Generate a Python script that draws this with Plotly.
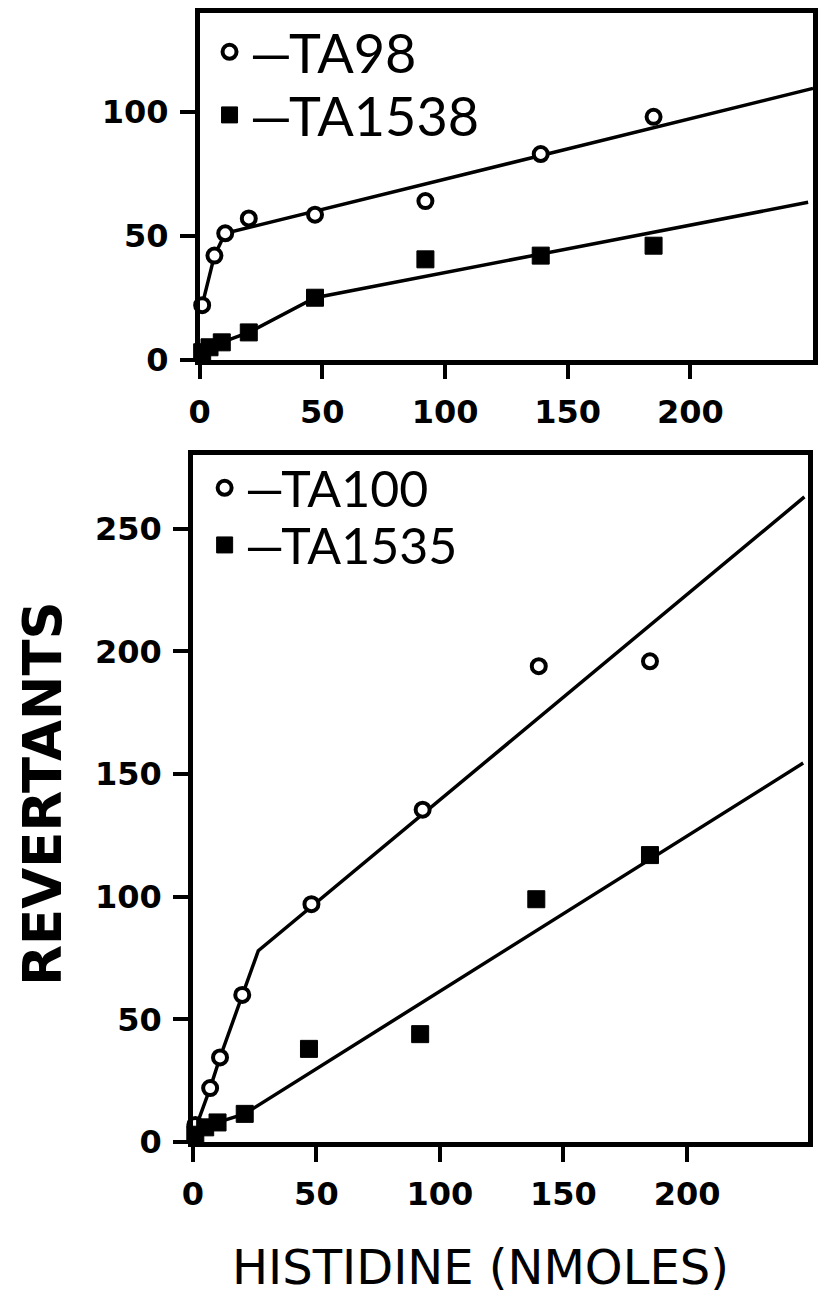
import plotly.graph_objects as go

# ---------------- data ----------------
# top panel
ta98_x = [1, 6, 10.4, 20, 47, 92, 139, 185]
ta98_y = [22, 42, 51, 57, 58.5, 64, 83, 98]
ta98_fit_x = [1, 6, 10.4, 250]
ta98_fit_y = [22, 42, 51, 109.5]

ta1538_x = [1, 4, 9, 20, 47, 92, 139, 185]
ta1538_y = [3, 5, 7, 11, 25, 40.5, 42, 46]
ta1538_fit_x = [1, 4, 9, 20, 47, 248]
ta1538_fit_y = [3, 5, 7, 11, 25, 63.5]

# bottom panel
ta100_x = [1, 7, 11, 20, 48, 93, 140, 185]
ta100_y = [7, 22, 34.5, 60, 97, 135.5, 194, 196]
ta100_fit_x = [0.5, 7, 11, 20, 26.5, 247.5]
ta100_fit_y = [4, 22, 34.5, 60, 78, 263]

ta1535_x = [1, 5, 10, 21, 47, 92, 139, 185]
ta1535_y = [3, 6, 8, 11.5, 38, 44, 99, 117]
ta1535_fit_x = [1, 5, 10, 21, 247]
ta1535_fit_y = [3, 6, 8, 11.5, 154.5]

x_ticks = [0, 50, 100, 150, 200]
top_y_ticks = [0, 50, 100]
bot_y_ticks = [0, 50, 100, 150, 200, 250]

# ---------------- styling ----------------
W, H = 818, 1301
BLACK = "black"
tick_font = dict(family="DejaVu Sans", size=32, color=BLACK, weight="bold")
leg_font_top = dict(family="Lato", size=54, color=BLACK)
leg_font_bot = dict(family="Lato", size=50, color=BLACK)

circle = dict(symbol="circle", size=14, color="white", line=dict(color=BLACK, width=4))
square = dict(symbol="square", size=17, color=BLACK, line=dict(color=BLACK, width=1))
fit_line = dict(color=BLACK, width=3.5)

fig = go.Figure()

def add_fit(x, y, xa, ya):
    fig.add_trace(go.Scatter(x=x, y=y, mode="lines", line=fit_line, xaxis=xa, yaxis=ya,
                             showlegend=False, hoverinfo="skip", cliponaxis=False))

def add_pts(x, y, marker, name, xa, ya, leg):
    fig.add_trace(go.Scatter(x=x, y=y, mode="markers", marker=marker, name=name,
                             xaxis=xa, yaxis=ya, legend=leg, showlegend=True,
                             cliponaxis=False))

add_fit(ta98_fit_x, ta98_fit_y, "x", "y")
add_fit(ta1538_fit_x, ta1538_fit_y, "x", "y")
add_fit(ta100_fit_x, ta100_fit_y, "x2", "y2")
add_fit(ta1535_fit_x, ta1535_fit_y, "x2", "y2")

add_pts(ta98_x, ta98_y, circle, "—TA98", "x", "y", "legend")
add_pts(ta1538_x, ta1538_y, square, "—TA1538", "x", "y", "legend2")
add_pts(ta100_x, ta100_y, circle, "—TA100", "x2", "y2", "legend3")
add_pts(ta1535_x, ta1535_y, square, "—TA1535", "x2", "y2", "legend4")

axis_common = dict(showline=True, linecolor=BLACK, linewidth=4.5, mirror=True,
                   ticks="outside", ticklen=15, tickwidth=4, tickcolor=BLACK,
                   showgrid=False, zeroline=False, tickfont=tick_font,
                   ticklabelstandoff=5)

fig.update_layout(
    width=W, height=H, margin=dict(l=0, r=0, t=0, b=0),
    paper_bgcolor="white", plot_bgcolor="white",
    xaxis=dict(domain=[192 / W, 816 / W], range=[0, 250], tickvals=x_ticks,
               anchor="y", **axis_common),
    yaxis=dict(domain=[1 - 365 / H, 1 - 13 / H], range=[0, 140], tickvals=top_y_ticks,
               anchor="x", **axis_common),
    xaxis2=dict(domain=[185 / W, 811 / W], range=[0, 249], tickvals=x_ticks,
                anchor="y2", **axis_common),
    yaxis2=dict(domain=[1 - 1159 / H, 1 - 462 / H], range=[0, 280], tickvals=bot_y_ticks,
                anchor="x2", **axis_common),
    legend=dict(x=202 / W, y=1 - 53 / H, xanchor="left", yanchor="middle",
                font=leg_font_top, bgcolor="rgba(0,0,0,0)"),
    legend2=dict(x=202 / W, y=1 - 117 / H, xanchor="left", yanchor="middle",
                 font=leg_font_top, bgcolor="rgba(0,0,0,0)"),
    legend3=dict(x=197 / W, y=1 - 495 / H, xanchor="left", yanchor="middle",
                 font=leg_font_bot, bgcolor="rgba(0,0,0,0)"),
    legend4=dict(x=197 / W, y=1 - 553 / H, xanchor="left", yanchor="middle",
                 font=leg_font_bot, bgcolor="rgba(0,0,0,0)"),
    annotations=[
        dict(text="REVERTANTS", x=32 / W, y=1 - 805 / H, xref="paper", yref="paper",
             xanchor="center", yanchor="middle", textangle=-90, showarrow=False,
             font=dict(family="DejaVu Sans", size=53, color=BLACK, weight="bold")),
        dict(text="HISTIDINE (NMOLES)", x=478 / W, y=1 - 1286 / H, xref="paper", yref="paper",
             xanchor="center", yanchor="middle", showarrow=False,
             font=dict(family="DejaVu Sans", size=48, color=BLACK)),
    ],
)

fig.write_html("out.html")
